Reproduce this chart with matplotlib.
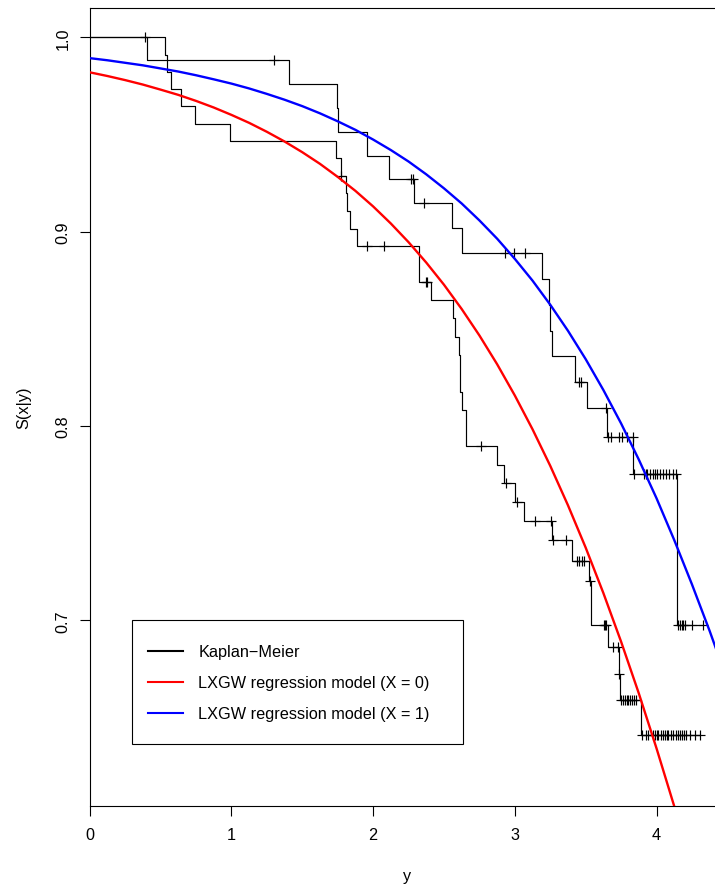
import numpy as np
import matplotlib
matplotlib.use("Agg")
import matplotlib.pyplot as plt
from matplotlib.patches import Rectangle
from matplotlib.lines import Line2D

plt.rcParams['font.family'] = ['Liberation Sans', 'DejaVu Sans']

# ---------------- data ----------------
# Kaplan-Meier, group X = 0 (lower curve): event times and survival after each drop
km0_times = [0.531, 0.548, 0.571, 0.644, 0.745, 0.992, 1.738, 1.774, 1.809, 1.818,
             1.839, 1.884, 2.326, 2.409, 2.566, 2.580, 2.604, 2.613, 2.630, 2.658,
             2.872, 2.926, 3.003, 3.067, 3.265, 3.406, 3.524, 3.538, 3.658, 3.735,
             3.745, 3.888]
km0_surv = [0.9910, 0.9823, 0.9734, 0.9645, 0.9555, 0.9466, 0.9377, 0.9288, 0.9199, 0.9104,
            0.9013, 0.8926, 0.8742, 0.8648, 0.8554, 0.8459, 0.8365, 0.8176, 0.8082, 0.7895,
            0.7800, 0.7706, 0.7608, 0.7511, 0.7411, 0.7306, 0.7200, 0.6975, 0.6861, 0.6723,
            0.6589, 0.6411]
km0_censor = [1.774, 1.959, 2.077, 2.373, 2.378, 2.759, 2.940, 3.018, 3.145, 3.253,
              3.272, 3.361, 3.437, 3.453, 3.472, 3.486, 3.531, 3.630, 3.639, 3.645,
              3.691, 3.726, 3.737, 3.752, 3.764, 3.775, 3.790, 3.801, 3.813, 3.826,
              3.841, 3.858, 3.900, 3.924, 3.942, 3.973, 3.989, 4.001, 4.013, 4.032,
              4.048, 4.060, 4.072, 4.083, 4.102, 4.119, 4.135, 4.150, 4.166, 4.182,
              4.196, 4.208, 4.237, 4.272, 4.307]

# Kaplan-Meier, group X = 1 (upper curve)
km1_times = [0.405, 1.409, 1.747, 1.755, 1.955, 2.114, 2.291, 2.560, 2.627, 3.194,
             3.244, 3.250, 3.265, 3.425, 3.512, 3.648, 3.835, 4.145]
km1_surv = [0.9883, 0.9761, 0.9635, 0.9514, 0.9390, 0.9271, 0.9146, 0.9017, 0.8890, 0.8758,
            0.8624, 0.8490, 0.8358, 0.8228, 0.8091, 0.7944, 0.7753, 0.6975]
km1_censor = [0.390, 1.303, 2.265, 2.284, 2.359, 2.931, 2.997, 3.072, 3.453, 3.465,
              3.641, 3.655, 3.676, 3.737, 3.754, 3.790, 3.832, 3.840, 3.912, 3.926,
              3.935, 3.954, 3.973, 3.992, 4.006, 4.025, 4.044, 4.067, 4.091, 4.119,
              4.138, 4.154, 4.166, 4.178, 4.189, 4.201, 4.248, 4.330]

# LXGW regression model curves
model_x = [0.0, 0.125, 0.25, 0.375, 0.5, 0.625, 0.75, 0.875, 1.0, 1.125, 1.25, 1.375,
           1.5, 1.625, 1.75, 1.875, 2.0, 2.125, 2.25, 2.375, 2.5, 2.625, 2.75, 2.875,
           3.0, 3.125, 3.25, 3.375, 3.5, 3.625, 3.75, 3.875, 4.0, 4.125, 4.25, 4.375, 4.5]
model_x0 = [0.9820, 0.9801, 0.9780, 0.9757, 0.9731, 0.9704, 0.9673, 0.9639, 0.9601, 0.9560,
            0.9514, 0.9464, 0.9409, 0.9349, 0.9282, 0.9210, 0.9130, 0.9042, 0.8946, 0.8841,
            0.8727, 0.8602, 0.8466, 0.8318, 0.8157, 0.7983, 0.7795, 0.7592, 0.7374, 0.7140,
            0.6890, 0.6624, 0.6341, 0.6043, 0.5729, 0.5400, 0.5050]
model_x1 = [0.9893, 0.9882, 0.9869, 0.9856, 0.9840, 0.9824, 0.9805, 0.9784, 0.9762, 0.9737,
            0.9709, 0.9679, 0.9646, 0.9609, 0.9568, 0.9524, 0.9474, 0.9420, 0.9361, 0.9295,
            0.9223, 0.9145, 0.9058, 0.8964, 0.8860, 0.8748, 0.8624, 0.8490, 0.8344, 0.8185,
            0.8013, 0.7827, 0.7628, 0.7413, 0.7185, 0.6945, 0.6690]

legend_labels = ["Kaplan\u2212Meier", "LXGW regression model (X = 0)",
                 "LXGW regression model (X = 1)"]
x_ticks = [0, 1, 2, 3, 4]
y_ticks = [0.7, 0.8, 0.9, 1.0]

# ---------------- figure ----------------
W, H = 715, 887
FS = 11.7
fig = plt.figure(figsize=(W / 100, H / 100), dpi=100)

def fx(px):
    return px / W

def fy(py):
    return 1 - py / H

left, right, top, bottom = 89.7, 723.7, 9.0, 806.7
ax = fig.add_axes([fx(left), fy(bottom), (right - left) / W, (bottom - top) / H])
ax.set_xlim(0, 4.474)
ax.set_ylim(0.6046, 1.0151)

def km_draw(times, surv, cens):
    t = np.asarray(times)
    s = np.asarray(surv)
    c = np.asarray(cens)
    tend = max(t.max(), c.max())
    xs = np.r_[0.0, t, tend]
    ys = np.r_[1.0, s, s[-1]]
    ax.step(xs, ys, where='post', color='black', lw=0.85, zorder=3)
    idx = np.searchsorted(t, c, side='right')
    cy = np.r_[1.0, s][idx]
    ax.plot(c, cy, linestyle='none', marker='+', color='black',
            markersize=7.5, markeredgewidth=0.85, zorder=3)

km_draw(km0_times, km0_surv, km0_censor)
km_draw(km1_times, km1_surv, km1_censor)

ax.plot(model_x, model_x0, color='#FF0000', lw=1.7, zorder=4)
ax.plot(model_x, model_x1, color='#0000FF', lw=1.7, zorder=4)

for sp in ax.spines.values():
    sp.set_linewidth(0.8)
    sp.set_color('black')

ax.set_xticks(x_ticks)
ax.set_xticklabels([str(v) for v in x_ticks])
ax.set_yticks(y_ticks)
ax.set_yticklabels(["%.1f" % v for v in y_ticks], rotation=90, va='center')
ax.tick_params(axis='both', direction='out', length=7, width=0.8, labelsize=FS,
               colors='black')
ax.tick_params(axis='x', pad=8)
ax.tick_params(axis='y', pad=7)

fig.text(fx(406.7), fy(876.7), "y", ha='center', va='center', fontsize=FS)
fig.text(fx(23.3), fy(407.3), "S(x|y)", ha='center', va='center', rotation=90,
         fontsize=FS)

# legend box (drawn in figure pixels)
bx0, by0, bx1, by1 = 132.3, 621.3, 463.3, 745.3
fig.add_artist(Rectangle((fx(bx0), fy(by1)), (bx1 - bx0) / W, (by1 - by0) / H,
                         transform=fig.transFigure, fill=True, facecolor='white',
                         edgecolor='black', lw=0.8, zorder=10))
rows = [652.3, 683.3, 714.3]
colors = ['black', '#FF0000', '#0000FF']
for ry, lab, col in zip(rows, legend_labels, colors):
    fig.add_artist(Line2D([fx(148.3), fx(182.7)], [fy(ry), fy(ry)],
                          transform=fig.transFigure, color=col, lw=1.5, zorder=11))
    fig.text(fx(198.3), fy(ry), lab, ha='left', va='center', fontsize=FS, zorder=11)

fig.savefig("out.png", dpi=100)
